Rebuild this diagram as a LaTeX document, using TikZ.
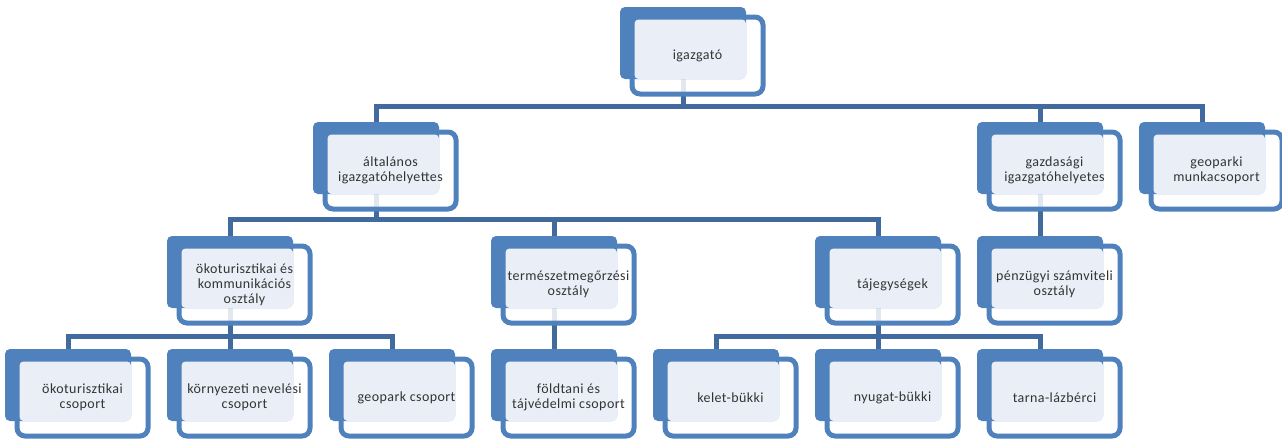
\documentclass[tikz,border=0pt]{standalone}
\usepackage{fontspec}
\setmainfont{Carlito}[LetterSpace=3]
\usetikzlibrary{backgrounds}

\definecolor{unitblue}{HTML}{4F81BD}
\definecolor{linkblue}{HTML}{416B9F}
\definecolor{unitlight}{HTML}{EAEFF7}
\definecolor{unittextcol}{HTML}{333333}

\tikzset{
  unitframe/.style={rectangle,draw=unitblue,line width=5pt,fill=white,fill opacity=0.85,
    rounded corners=8pt,minimum width=131,minimum height=77,inner sep=0,outer sep=0},
  unitback/.style={rectangle,fill=unitblue,rounded corners=5pt,
    minimum width=126,minimum height=72,inner sep=0,outer sep=0},
  unitface/.style={fill=unitlight,rounded corners=4pt},
  unittext/.style={align=center,text=unittextcol,inner sep=0,
    font=\fontsize{14}{15}\selectfont},
  orglink/.style={draw=linkblue,line width=5pt}
}

% #1 name, #2/#3 top left of the blue block, #4 text
\newcommand{\orgunit}[4]{%
  \node[unitframe] (#1f) at ({#2+77.5},{#3+48.5}) {};
  \node[unitback] (#1) at ({#2+63},{#3+36}) {};
  \fill[unitface] ([shift={(2.5,2.5)}]#1f.north west) rectangle (#1.south east);
  \node[unittext] (#1t) at (#1f.center) {#4};
}

\begin{document}
\begin{tikzpicture}[x=1pt,y=-1pt]
  \useasboundingbox (0,0) rectangle (1282,439);

  % top
  \orgunit{ig}{620}{7}{igazgató}

  % level 1
  \orgunit{alt}{313}{122}{általános\\igazgatóhelyettes}
  \orgunit{gaz}{977}{122}{gazdasági\\igazgatóhelyetes}
  \orgunit{geo}{1139}{122}{geoparki\\munkacsoport}

  % level 2
  \orgunit{oko}{167}{236}{ökoturisztikai és\\kommunikációs\\osztály}
  \orgunit{ter}{491}{236}{természetmegőrzési\\osztály}
  \orgunit{taj}{815}{236}{tájegységek}
  \orgunit{pen}{977}{236}{pénzügyi számviteli\\osztály}

  % level 3
  \orgunit{okocs}{5}{349}{ökoturisztikai\\csoport}
  \orgunit{kor}{167}{349}{környezeti nevelési\\csoport}
  \orgunit{gep}{329}{349}{geopark csoport}
  \orgunit{fol}{491}{349}{földtani és\\tájvédelmi csoport}
  \orgunit{kel}{653}{349}{kelet-bükki}
  \orgunit{nyu}{815}{349}{nyugat-bükki}
  \orgunit{tar}{977}{349}{tarna-lázbérci}

  \begin{pgfonlayer}{background}
    \draw[orglink] (ig.south) -- ++(0,27) -| (alt.north);
    \draw[orglink] (ig.south) -- ++(0,27) -| (gaz.north);
    \draw[orglink] (ig.south) -- ++(0,27) -| (geo.north);

    \draw[orglink] (alt.south) -- ++(0,25) -| (oko.north);
    \draw[orglink] (alt.south) -- ++(0,25) -| (ter.north);
    \draw[orglink] (alt.south) -- ++(0,25) -| (taj.north);
    \draw[orglink] (gaz.south) -- (pen.north);

    \draw[orglink] (oko.south) -- ++(0,28) -| (okocs.north);
    \draw[orglink] (oko.south) -- ++(0,28) -| (kor.north);
    \draw[orglink] (oko.south) -- ++(0,28) -| (gep.north);
    \draw[orglink] (ter.south) -- (fol.north);
    \draw[orglink] (taj.south) -- ++(0,28) -| (kel.north);
    \draw[orglink] (taj.south) -- ++(0,28) -| (nyu.north);
    \draw[orglink] (taj.south) -- ++(0,28) -| (tar.north);
  \end{pgfonlayer}
\end{tikzpicture}
\end{document}
